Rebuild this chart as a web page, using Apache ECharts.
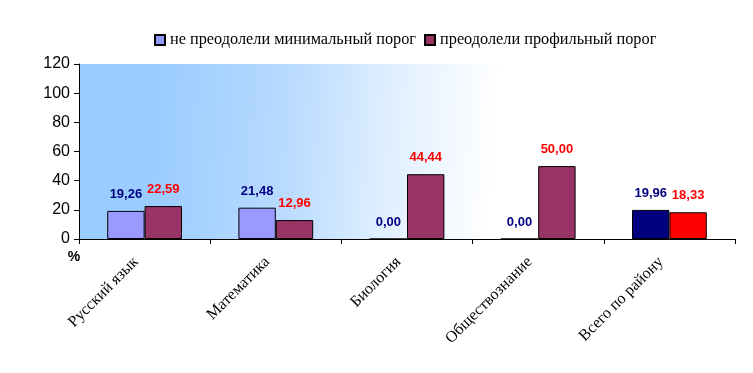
<!DOCTYPE html>
<html>
<head>
<meta charset="utf-8">
<script src="https://cdn.jsdelivr.net/npm/echarts@6/dist/echarts.min.js"></script>
<style>html,body{margin:0;padding:0;background:#fff;}#c{width:753px;height:373px;}</style>
</head>
<body>
<div id="c"></div>
<script>
const categories = ['Русский язык', 'Математика', 'Биология', 'Обществознание', 'Всего по району'];
const seriesNames = ['не преодолели минимальный порог', 'преодолели профильный порог'];
const notPassedMin = [19.26, 21.48, 0.00, 0.00, 19.96];
const passedProfile = [22.59, 12.96, 44.44, 50.00, 18.33];
const yTicks = { min: 0, max: 120, interval: 20 };

const fmt = v => v.toFixed(2).replace('.', ',');
const lastIdx = categories.length - 1;

function buildData(values, lastColor) {
  return values.map((v, i) => i === lastIdx ? { value: v, itemStyle: { color: lastColor } } : v);
}

const chart = echarts.init(document.getElementById('c'), null, { renderer: 'canvas' });
chart.setOption({
  animation: false,
  backgroundColor: '#ffffff',
  legend: {
    top: 27,
    left: 149,
    itemWidth: 10,
    itemHeight: 10,
    itemGap: 8,
    icon: 'rect',
    textStyle: { fontFamily: 'Liberation Serif', fontSize: 16.3, color: '#000' },
    data: seriesNames
  },
  grid: {
    left: 79, right: 18, top: 64, bottom: 134,
    show: true,
    borderWidth: 0,
    backgroundColor: new echarts.graphic.LinearGradient(0, 0, 1, 0.25, [
      { offset: 0, color: '#99CCFF' },
      { offset: 0.12, color: '#9ACCFF' },
      { offset: 0.32, color: '#B8DAFF' },
      { offset: 0.48, color: '#E0EFFF' },
      { offset: 0.64, color: '#FFFFFF' },
      { offset: 1, color: '#FFFFFF' }
    ])
  },
  xAxis: {
    type: 'category',
    data: categories,
    axisLine: { lineStyle: { color: '#000', width: 1 } },
    axisTick: { show: true, length: 5, lineStyle: { color: '#000' } },
    axisLabel: {
      rotate: 45,
      margin: 12,
      padding: [0, 12, 0, 0],
      fontFamily: 'Liberation Serif',
      fontSize: 16,
      color: '#000'
    }
  },
  yAxis: {
    type: 'value',
    min: yTicks.min, max: yTicks.max, interval: yTicks.interval,
    name: '%',
    nameLocation: 'start',
    nameGap: 11,
    nameTextStyle: { fontFamily: 'Liberation Sans', fontSize: 14, fontWeight: 'bold', color: '#000', padding: [0, 10, 0, 0] },
    axisLine: { show: true, lineStyle: { color: '#000', width: 1 } },
    axisTick: { show: true, length: 5, lineStyle: { color: '#000' } },
    splitLine: { show: false },
    axisLabel: { margin: 9, fontFamily: 'Liberation Sans', fontSize: 16, color: '#000' }
  },
  series: [
    {
      name: seriesNames[0],
      type: 'bar',
      data: buildData(notPassedMin, '#000080'),
      barGap: '0%',
      barCategoryGap: '43%',
      itemStyle: { color: '#9999FF', borderColor: '#000', borderWidth: 1 },
      label: {
        show: true, position: 'top', distance: 10,
        formatter: p => fmt(p.value),
        fontFamily: 'Liberation Sans', fontSize: 13, fontWeight: 'bold', color: '#000080'
      }
    },
    {
      name: seriesNames[1],
      type: 'bar',
      data: buildData(passedProfile, '#FF0000'),
      barGap: '0%',
      barCategoryGap: '43%',
      itemStyle: { color: '#993366', borderColor: '#000', borderWidth: 1 },
      label: {
        show: true, position: 'top', distance: 10,
        formatter: p => fmt(p.value),
        fontFamily: 'Liberation Sans', fontSize: 13, fontWeight: 'bold', color: '#FF0000'
      }
    }
  ]
});
</script>
</body>
</html>
